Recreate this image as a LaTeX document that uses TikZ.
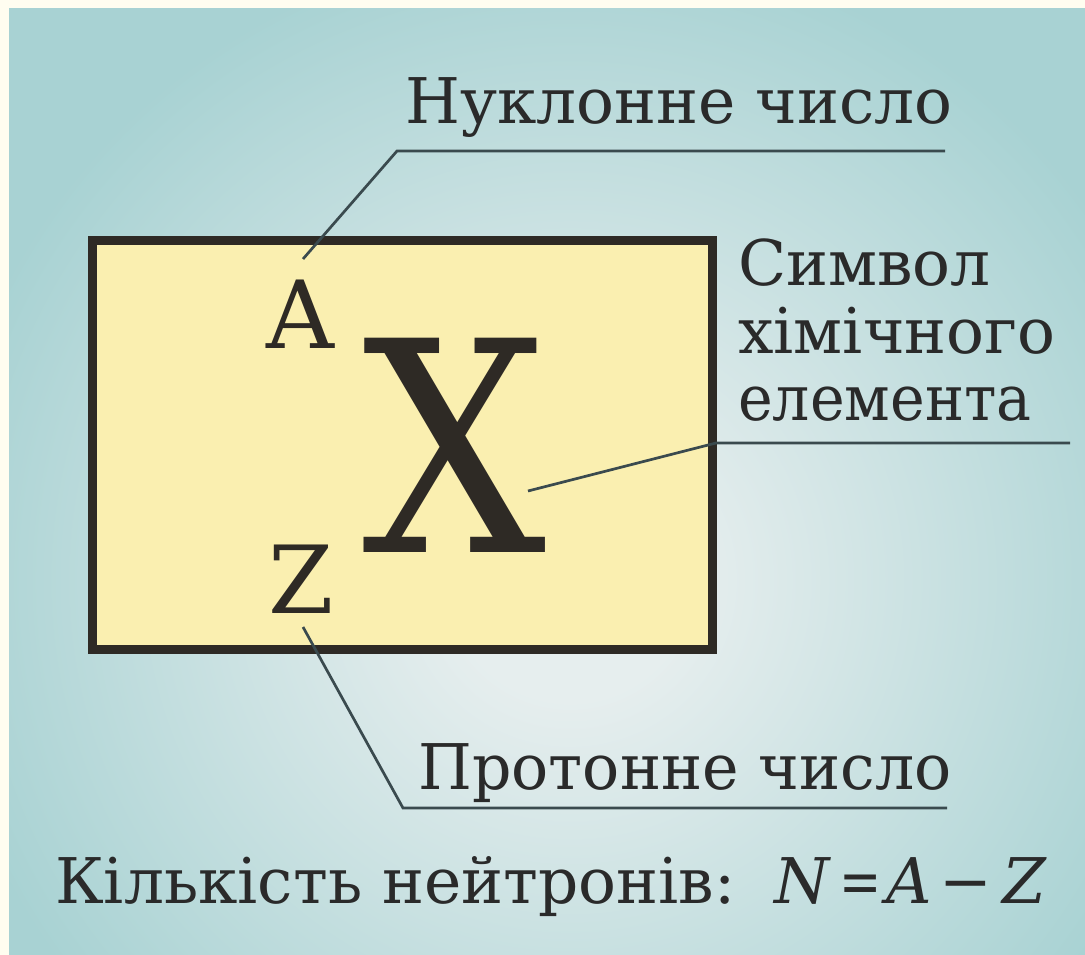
\documentclass[tikz,border=0pt]{standalone}
\usepackage{graphicx}
\usepackage{fontspec}
\setmainfont{DejaVu Serif}
\definecolor{bgin}{HTML}{E6EEEE}
\definecolor{bgout}{HTML}{A8D2D3}
\definecolor{cream}{HTML}{FFFDF0}
\definecolor{boxfill}{HTML}{FAEFB0}
\definecolor{boxline}{HTML}{2E2A25}
\definecolor{ink}{HTML}{2A2A2A}
\definecolor{leadc}{HTML}{3A4A4E}
\pgfdeclareradialshading{bgglow}{\pgfpoint{0bp}{0bp}}{color(0bp)=(bgin); color(3bp)=(bgin); color(16bp)=(bgout); color(50bp)=(bgout)}
\begin{document}
\begin{tikzpicture}[x=1pt,y=-1pt,
  lbl/.style={font=\fontsize{63}{63}\selectfont, text=ink, inner sep=0pt, anchor=base west},
  letter/.style={font=\fontsize{94}{94}\selectfont, text=boxline, inner sep=0pt, anchor=base},
  leader/.style={draw=leadc, line width=2.7pt, line join=miter}]
\useasboundingbox (0,0) rectangle (1085,955);
\fill[cream] (0,0) rectangle (1085,955);
\begin{scope}
  \clip (9,9) rectangle (1085,955);
  \fill[bgout] (9,9) rectangle (1085,955);
  \shade[shading=bgglow] (570,580) circle[radius=1000];
\end{scope}
% element box
\draw[fill=boxfill, draw=boxline, line width=9pt] (92.5,240.5) rectangle (712.5,649.5);
\node[letter] (A) at (300,348) {A};
\node[letter] (Z) at (301,613) {Z};
\node[letter, font=\fontsize{294}{294}\selectfont] (X) at (455,552) {\scalebox{0.88}[1]{X}};
% labels
\node[lbl] (nuc) at (405,124) {Нуклонне число};
\node[lbl] (sym1) at (738,285) {Символ};
\node[lbl] (sym2) at (738,353) {хімічного};
\node[lbl] (sym3) at (738,420) {\scalebox{0.93}[1]{елемента}};
\node[lbl] (pro) at (418,789) {\scalebox{0.98}[1]{Протонне число}};
\node[lbl] (neu) at (55,903) {Кількість нейтронів:\hspace{12pt} \textit{N}\hspace{8pt}\scalebox{0.8}[1]{=}\hspace{5pt}\textit{A}\hspace{8pt}−\hspace{10pt}\textit{Z}};
% leader coordinates
\coordinate (a1) at (303,259);
\coordinate (a2) at (397,151);
\coordinate (a3) at (945,151);
\coordinate (x1) at (528,491);
\coordinate (x2) at (716,443);
\coordinate (x3) at (1070,443);
\coordinate (z1) at (303,627);
\coordinate (z2) at (403,808);
\coordinate (z3) at (947,808);
\draw[leader] (a1) -- (a2) -- (a3);
\draw[leader] (x1) -- (x2) -- (x3);
\draw[leader] (z1) -- (z2) -- (z3);
\end{tikzpicture}
\end{document}
